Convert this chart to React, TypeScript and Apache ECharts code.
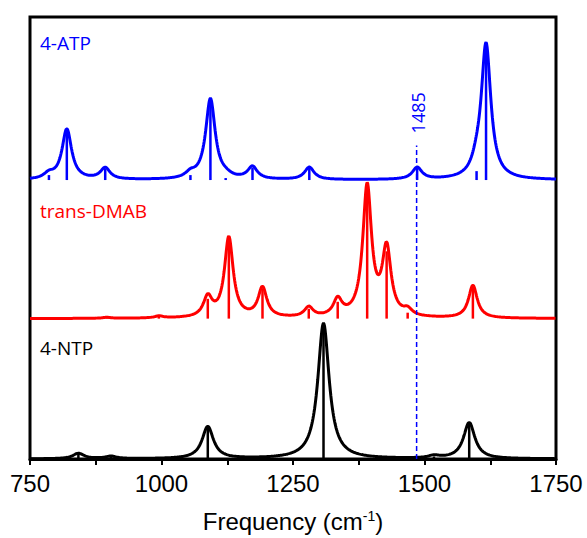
import React, { useEffect, useRef } from "react";
import * as echarts from "echarts";

// ---- data (frequency in cm-1, intensity in arbitrary units) ----
const X_MIN = 750;
const X_MAX = 1750;
const X_INTERVAL = 250;
const Y_MAX = 446.5;

const SPECTRA_NAMES = ["4-NTP", "trans-DMAB", "4-ATP"];
const SPECTRA_OFFSETS = [0, 141.8, 281.8];
const SPECTRA_COLORS = ["#000000", "#ff0000", "#0000ff"];
// Lorentzian half widths (cm-1) used to broaden each stick spectrum
const SPECTRA_HWHM = [13, 10, 11];

// stick spectra (mode frequency, intensity)
const ntpFreq = [842, 904, 1088, 1308, 1518, 1585];
const ntpInt = [5.5, 2.5, 32.5, 137, 2.5, 36.5];

const dmabFreq = [896, 995, 1088, 1128, 1192, 1280, 1335, 1391, 1428, 1468, 1592];
const dmabInt = [1, 2, 20, 81, 30, 10, 17, 132, 68, 6, 33];

const atpFreq = [786, 820, 893, 1055, 1093, 1122, 1173, 1281, 1486, 1599, 1617];
const atpInt = [5, 51, 11.5, 5, 81.5, 2, 12.5, 12.5, 12, 9, 136.5];

const MARKER_FREQ = 1485;
const MARKER_TOP = 316.8;
const MARKER_LABEL = "1485";

const X_TITLE = "Frequency (cm";
const X_TITLE_SUP = "-1";

function broaden(freq: number[], inten: number[], offset: number, g: number): number[][] {
  const out: number[][] = [];
  for (let x = X_MIN; x <= X_MAX; x += 1) {
    let s = 0;
    for (let i = 0; i < freq.length; i++) {
      const d = x - freq[i];
      s += (inten[i] * g * g) / (d * d + g * g);
    }
    out.push([x, offset + s]);
  }
  return out;
}

export default function App() {
  const ref = useRef<HTMLDivElement>(null);
  useEffect(() => {
    if (!ref.current) return;
    const chart = echarts.init(ref.current, undefined, { renderer: "svg" });
    const sticks = [
      [ntpFreq, ntpInt],
      [dmabFreq, dmabInt],
      [atpFreq, atpInt],
    ];
    const series: any[] = [];
    sticks.forEach(([f, h], k) => {
      const off = SPECTRA_OFFSETS[k];
      const color = SPECTRA_COLORS[k];
      series.push({
        type: "line",
        data: broaden(f, h, off, SPECTRA_HWHM[k]),
        showSymbol: false,
        symbol: "none",
        lineStyle: { color, width: 3 },
        z: 2 + k * 2,
        silent: true,
      });
      series.push({
        type: "custom",
        data: f.map((v, i) => [v, h[i]]),
        z: 3 + k * 2,
        silent: true,
        renderItem: (params: any, api: any) => {
          const x = api.value(0);
          const v = api.value(1);
          const p0 = api.coord([x, off]);
          const p1 = api.coord([x, off + v]);
          return {
            type: "line",
            shape: { x1: p0[0], y1: p0[1], x2: p1[0], y2: p1[1] },
            style: { stroke: color, lineWidth: 2.5 },
          };
        },
      });
    });
    // dashed marker with rotated label
    series.push({
      type: "custom",
      data: [[MARKER_FREQ, MARKER_TOP]],
      z: 20,
      silent: true,
      renderItem: (params: any, api: any) => {
        const x = api.value(0);
        const top = api.value(1);
        const p0 = api.coord([x, 0]);
        const p1 = api.coord([x, top]);
        return {
          type: "group",
          children: [
            {
              type: "line",
              shape: { x1: p0[0], y1: p0[1], x2: p1[0], y2: p1[1] },
              style: { stroke: "#0000ff", lineWidth: 1.5, lineDash: [5, 3] },
            },
            {
              type: "text",
              x: p1[0] + 1.5,
              y: p1[1] - 12,
              rotation: Math.PI / 2,
              style: {
                text: MARKER_LABEL,
                fontFamily: "Open Sans",
                fontSize: 18,
                fill: "#0000ff",
                align: "left",
                verticalAlign: "middle",
              },
            },
          ],
        };
      },
    });
    // spectrum names
    const labelY = [347, 209.5, 42];
    series.push({
      type: "custom",
      data: SPECTRA_NAMES.map((n, i) => [i]),
      z: 21,
      silent: true,
      renderItem: (params: any, api: any) => {
        const i = api.value(0);
        return {
          type: "text",
          x: 40,
          y: labelY[i] + 1,
          style: {
            text: SPECTRA_NAMES[i],
            fontFamily: "Open Sans",
            fontSize: 19,
            fill: SPECTRA_COLORS[i],
            align: "left",
            verticalAlign: "middle",
          },
        };
      },
    });

    chart.setOption({
      animation: false,
      backgroundColor: "#ffffff",
      grid: {
        left: 30,
        right: 31,
        top: 17,
        bottom: 74.5,
        show: true,
        borderColor: "#000",
        borderWidth: 3,
        containLabel: false,
      },
      xAxis: {
        type: "value",
        min: X_MIN,
        max: X_MAX,
        interval: X_INTERVAL,
        axisLine: { show: true, onZero: false, lineStyle: { color: "#000", width: 3 } },
        axisTick: { show: true, inside: false, length: 6, lineStyle: { color: "#000", width: 2 } },
        minorTick: { show: true, splitNumber: 2, length: 6, lineStyle: { color: "#000", width: 2 } },
        splitLine: { show: false },
        minorSplitLine: { show: false },
        axisLabel: {
          fontFamily: "Liberation Sans",
          fontSize: 24,
          color: "#000",
          margin: 12,
          showMinLabel: true,
          showMaxLabel: true,
          formatter: (v: number) => String(v),
        },
        name: `{t|${X_TITLE}}{s|${X_TITLE_SUP}}{t|)}`,
        nameLocation: "middle",
        nameGap: 50,
        nameTextStyle: {
          rich: {
            t: { fontFamily: "Liberation Sans", fontSize: 24, color: "#000" },
            s: { fontFamily: "Liberation Sans", fontSize: 14, color: "#000", verticalAlign: "top" },
          },
        },
      },
      yAxis: { type: "value", min: 0, max: Y_MAX, show: false, splitLine: { show: false } },
      series,
    });
    return () => chart.dispose();
  }, []);
  return (
    <div
      ref={ref}
      style={{ position: "fixed", left: 0, top: 0, width: 587, height: 538, background: "#fff" }}
    />
  );
}
